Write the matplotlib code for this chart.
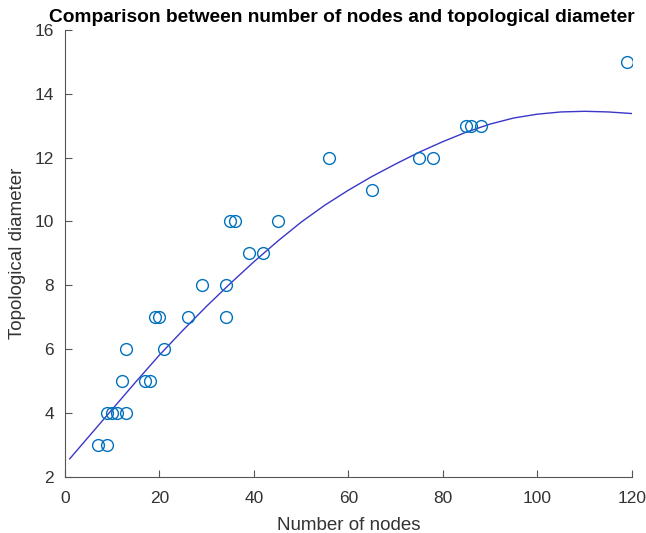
import numpy as np
import matplotlib
matplotlib.use('Agg')
import matplotlib.pyplot as plt

# 数据：节点数 vs 拓扑直径
nodes = [7, 9, 9, 10, 11, 13, 12, 17, 18, 13, 21, 19, 20, 26, 34,
         29, 34, 39, 42, 35, 36, 45, 65, 56, 75, 78, 85, 86, 88, 119]
diameter = [3, 3, 4, 4, 4, 4, 5, 5, 5, 6, 6, 7, 7, 7, 7,
            8, 8, 9, 9, 10, 10, 10, 11, 12, 12, 12, 13, 13, 13, 15]

# 拟合曲线
fit_x = [1, 5, 10, 15, 20, 25, 30, 35, 40, 45, 50, 55, 60,
         65, 70, 75, 80, 85, 90, 95, 100, 105, 110, 115, 120]
fit_y = [2.57, 3.26, 4.12, 4.98, 5.82, 6.6, 7.35, 8.06, 8.74, 9.38, 9.98, 10.51, 10.98,
         11.41, 11.8, 12.17, 12.5, 12.8, 13.05, 13.24, 13.36, 13.43, 13.45, 13.43, 13.38]

x_ticks = [0, 20, 40, 60, 80, 100, 120]
y_ticks = [2, 4, 6, 8, 10, 12, 14, 16]

plt.rcParams['font.family'] = ['Liberation Sans', 'DejaVu Sans']

fig = plt.figure(figsize=(6.46, 5.33), dpi=100)
ax = fig.add_axes([0.1006, 0.105, 0.8774, 0.839])

ax.plot(fit_x, fit_y, color='#3b36c8', linewidth=1.0)
ax.plot(nodes, diameter, 'o', markerfacecolor='none', markeredgecolor='#0072BD',
        markersize=8.5, markeredgewidth=1.0)

ax.set_xlim(0, 120)
ax.set_ylim(2, 16)
ax.set_xticks(x_ticks)
ax.set_yticks(y_ticks)
for s in ['top', 'right']:
    ax.spines[s].set_visible(False)
for s in ['left', 'bottom']:
    ax.spines[s].set_color('#555555')
ax.tick_params(direction='in', length=5, colors='#555555', labelsize=12.5,
               labelcolor='#333333')
ax.tick_params(axis='x', pad=10)
ax.tick_params(axis='y', pad=8)

ax.set_title('Comparison between number of nodes and topological diameter',
             fontsize=13.8, fontweight='bold', pad=6, x=0.488)
ax.set_xlabel('Number of nodes', fontsize=13.5, color='#333333', labelpad=8)
ax.set_ylabel('Topological diameter', fontsize=13.5, color='#333333', labelpad=6)

fig.savefig('out.png', dpi=100)
